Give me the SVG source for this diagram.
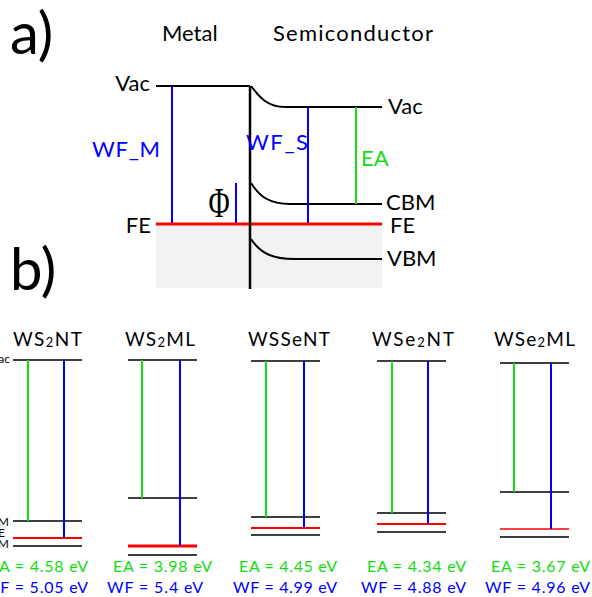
<svg xmlns="http://www.w3.org/2000/svg" width="592" height="597" viewBox="0 0 592 597">
<style>
text{font-family:Lato,"Open Sans","DejaVu Sans",sans-serif;fill:#000}
.big{font-size:58px}
.hd{font-size:22px}
.lab{font-size:22px}
.ph{font-size:19px;text-anchor:middle}
.sub{font-size:13px}
.sm{font-size:12px;text-anchor:end}
.val{font-size:16px}
.b{fill:#0000ff}
.g{fill:#11dd11}
.k{stroke:#000;stroke-width:2;fill:none}
.kb{stroke:#000;stroke-width:1.6;fill:none}
.bl{stroke:#0000ff;stroke-width:2;fill:none}
.gl{stroke:#11dd11;stroke-width:2;fill:none}
.rl{stroke:#ff0000;stroke-width:2;fill:none}
</style>
<rect width="592" height="597" fill="#fff"/>
<g id="panel-a">
  <text class="big" x="10" y="54">a)</text>
  <text class="hd" x="162" y="41">Metal</text>
  <text class="hd" x="273" y="41" textLength="160" lengthAdjust="spacing">Semiconductor</text>
  <rect x="156" y="224" width="226" height="64" fill="#f2f2f2"/>
  <g id="connectors-a">
    <path class="k" d="M156 86H250"/>
    <path class="k" d="M251 86C260 98 268 107 285 107H382"/>
    <path class="k" d="M251 183C260 197 270 204 290 204H382"/>
    <path class="k" d="M251 239C260 253 272 259 295 259H382"/>
    <path class="bl" d="M172 86V224"/>
    <path class="bl" d="M236 183V224"/>
    <path class="bl" d="M308 107V224"/>
    <path class="gl" d="M356 107V204"/>
    <path stroke="#ff0000" stroke-width="3" d="M156 224H382"/>
    <path stroke="#000" stroke-width="2.5" d="M250 86V289"/>
  </g>
  <g id="labels-a">
    <text class="lab" x="150" y="91" text-anchor="end">Vac</text>
    <text class="lab" x="151" y="233" text-anchor="end">FE</text>
    <text class="lab b" x="92" y="157" textLength="68" lengthAdjust="spacing">WF_M</text>
    <text transform="translate(219,217) scale(1,1.45)" text-anchor="middle" style="font-family:'Liberation Serif','DejaVu Serif',serif;font-size:29px">Φ</text>
    <text class="lab b" x="246" y="150" textLength="62" lengthAdjust="spacing">WF_S</text>
    <text class="lab g" x="361" y="166">EA</text>
    <text class="lab" x="388" y="114">Vac</text>
    <text class="lab" x="386" y="210">CBM</text>
    <text class="lab" x="390" y="233">FE</text>
    <text class="lab" x="387" y="266">VBM</text>
  </g>
</g>
<text class="big" x="10" y="290">b)</text>
<g id="ws2nt">
  <text class="ph" x="47.5" y="346" textLength="69" lengthAdjust="spacing">WS<tspan class="sub" dy="1">2</tspan><tspan dy="-1">NT</tspan></text>
  <path class="kb" d="M13 360H82M13 521H82M13 546H82"/>
  <path class="rl" d="M13 538H82"/>
  <path class="gl" d="M28 360V521"/>
  <path class="bl" d="M64 360V538"/>
  <text class="sm" x="10" y="363">Vac</text>
  <text class="sm" x="9" y="526">CBM</text>
  <text class="sm" x="5" y="537">FE</text>
  <text class="sm" x="9" y="548">VBM</text>
  <text class="val g" x="-11" y="572" textLength="99" lengthAdjust="spacing">EA = 4.58 eV</text>
  <text class="val b" x="-17" y="593" textLength="105" lengthAdjust="spacing">WF = 5.05 eV</text>
</g>
<g id="ws2ml">
  <text class="ph" x="160" y="346" textLength="70" lengthAdjust="spacing">WS<tspan class="sub" dy="1">2</tspan><tspan dy="-1">ML</tspan></text>
  <path class="kb" d="M128 360H197M128 498H197M128 555H197"/>
  <path stroke="#ff0000" stroke-width="3" d="M128 546H197"/>
  <path class="gl" d="M142 360V498"/>
  <path class="bl" d="M180 360V546"/>
  <text class="val g" x="113" y="572" textLength="99" lengthAdjust="spacing">EA = 3.98 eV</text>
  <text class="val b" x="107" y="593" textLength="96" lengthAdjust="spacing">WF = 5.4 eV</text>
</g>
<g id="wssent">
  <text class="ph" x="289" y="346" textLength="82" lengthAdjust="spacing">WSSeNT</text>
  <path class="kb" d="M251 361H320M251 517H320M251 535H320"/>
  <path class="rl" d="M251 528H320"/>
  <path class="gl" d="M266 361V517"/>
  <path class="bl" d="M304 361V528"/>
  <text class="val g" x="239" y="572" textLength="98" lengthAdjust="spacing">EA = 4.45 eV</text>
  <text class="val b" x="233" y="593" textLength="104" lengthAdjust="spacing">WF = 4.99 eV</text>
</g>
<g id="wse2nt">
  <text class="ph" x="413" y="346" textLength="82" lengthAdjust="spacing">WSe<tspan class="sub" dy="1">2</tspan><tspan dy="-1">NT</tspan></text>
  <path class="kb" d="M377 361H446M377 513H446M377 532H446"/>
  <path class="rl" d="M377 524H446"/>
  <path class="gl" d="M392 361V513"/>
  <path class="bl" d="M428 361V524"/>
  <text class="val g" x="367" y="572" textLength="99" lengthAdjust="spacing">EA = 4.34 eV</text>
  <text class="val b" x="361" y="593" textLength="105" lengthAdjust="spacing">WF = 4.88 eV</text>
</g>
<g id="wse2ml">
  <text class="ph" x="534.5" y="346" textLength="81" lengthAdjust="spacing">WSe<tspan class="sub" dy="1">2</tspan><tspan dy="-1">ML</tspan></text>
  <path class="kb" d="M500 363H569M500 492H569M500 537H569"/>
  <path stroke="#ff0000" stroke-width="1.4" d="M500 529H569"/>
  <path class="gl" d="M514 363V492"/>
  <path class="bl" d="M551 363V529"/>
  <text class="val g" x="491" y="572" textLength="99" lengthAdjust="spacing">EA = 3.67 eV</text>
  <text class="val b" x="485" y="593" textLength="105" lengthAdjust="spacing">WF = 4.96 eV</text>
</g>
</svg>
